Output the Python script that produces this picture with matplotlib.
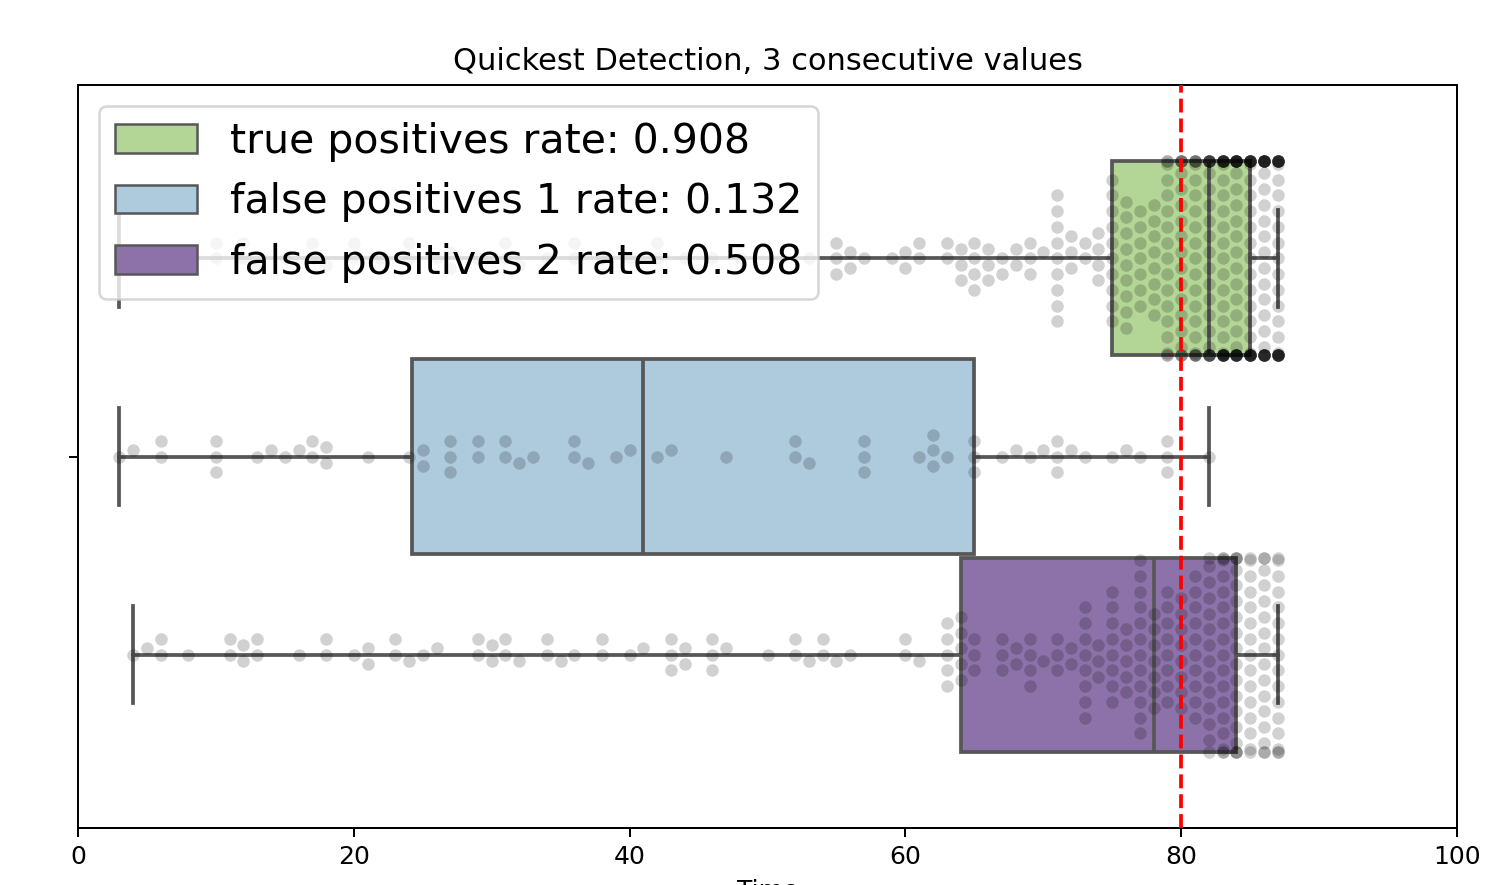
import numpy as np
import matplotlib
matplotlib.use("Agg")
import matplotlib.pyplot as plt
from matplotlib.patches import Patch

# legend labels and box colours (top to bottom)
labels = ["true positives rate: 0.908",
          "false positives 1 rate: 0.132",
          "false positives 2 rate: 0.508"]
box_colors = ["#b3d595", "#aecbde", "#8d72aa"]

# detection times (value, count)
tp_values = [3, 5, 6, 8, 10, 12, 13, 15, 17, 18, 20, 22, 24, 26, 27, 29, 31, 32,
             34, 36, 38, 40, 42, 44, 46, 48, 51, 53, 55, 56, 57, 59, 60, 61, 63,
             64, 65, 66, 67, 68, 69, 70, 71, 72, 73, 74, 75, 76, 77, 78, 79, 80,
             81, 82, 83, 84, 85, 86, 87]
tp_counts = [1, 1, 2, 1, 2, 2, 1, 1, 2, 1, 2, 1, 2, 1, 2, 1, 2, 1,
             1, 2, 1, 1, 2, 1, 1, 1, 1, 1, 3, 2, 1, 1, 2, 2, 2,
             3, 4, 3, 2, 2, 3, 1, 9, 3, 2, 4, 10, 9, 7, 8, 17, 19,
             21, 25, 31, 31, 31, 31, 31]

fp1_values = [3, 4, 6, 10, 13, 14, 15, 16, 17, 18, 21, 24, 25, 27, 29, 31, 32, 33,
              36, 37, 39, 40, 42, 43, 47, 52, 53, 57, 61, 62, 63, 65, 67, 68, 69,
              70, 71, 72, 73, 75, 76, 77, 79, 82]
fp1_counts = [1, 1, 2, 3, 1, 1, 1, 1, 2, 2, 1, 1, 2, 3, 2, 2, 1, 1,
              2, 1, 1, 1, 1, 1, 1, 2, 1, 3, 1, 3, 1, 3, 1, 1, 1,
              1, 3, 1, 1, 1, 1, 1, 3, 1]

fp2_values = [4, 5, 6, 8, 11, 12, 13, 16, 18, 20, 21, 23, 24, 25, 26, 29, 30, 31,
              32, 34, 35, 36, 38, 40, 41, 43, 44, 46, 47, 50, 52, 53, 54, 55, 56,
              60, 61, 63, 64, 65, 67, 68, 69, 70, 71, 72, 73, 74, 75, 76, 77, 78,
              79, 80, 81, 82, 83, 84, 85, 86, 87]
fp2_counts = [1, 1, 2, 1, 2, 2, 2, 1, 2, 1, 2, 2, 1, 1, 1, 2, 2, 2,
              1, 2, 1, 1, 2, 1, 1, 3, 2, 3, 1, 1, 2, 1, 2, 1, 1,
              2, 1, 5, 5, 3, 3, 2, 4, 1, 3, 2, 8, 3, 8, 5, 12, 7,
              8, 8, 10, 14, 17, 18, 15, 16, 16]

threshold = 80

DPI = 180
EDGE = "#575757"


def expand(values, counts):
    return np.repeat(np.asarray(values, float), counts)


def swarm(ax, values, center, width, diameter):
    # seaborn-like beeswarm, worked out in pixel space
    data = np.column_stack([values, np.full(len(values), center)])
    pix = ax.transData.transform(data)
    order = np.argsort(pix[:, 0], kind="stable")
    val_px = pix[order, 0]
    mid = pix[0, 1]
    pv, pc = [], []
    for v in val_px:
        nb = []
        for j in range(len(pv) - 1, -1, -1):
            if v - pv[j] < diameter:
                nb.append(j)
            else:
                break
        if not nb:
            pv.append(v)
            pc.append(mid)
            continue
        cands = [mid]
        up_first = True
        for j in nb:
            dv = v - pv[j]
            dc = np.sqrt(max(diameter ** 2 - dv ** 2, 0)) * 1.05
            a, b = pc[j] + dc, pc[j] - dc
            cands += [a, b] if up_first else [b, a]
            up_first = not up_first
        cands = np.array(cands)
        cands = cands[np.argsort(np.abs(cands - mid), kind="stable")]
        nv = np.array([pv[j] for j in nb])
        nc = np.array([pc[j] for j in nb])
        chosen = cands[-1]
        for c in cands:
            if np.all((nv - v) ** 2 + (nc - c) ** 2 >= diameter ** 2):
                chosen = c
                break
        pv.append(v)
        pc.append(chosen)
    back = ax.transData.inverted().transform(np.column_stack([pv, pc]))
    ys = np.clip(back[:, 1], center - width / 2, center + width / 2)
    return back[:, 0], ys


groups = [expand(tp_values, tp_counts),
          expand(fp1_values, fp1_counts),
          expand(fp2_values, fp2_counts)]
centers = [-0.8 / 3, 0.0, 0.8 / 3]
box_w = 0.8 / 3 * 0.98

fig = plt.figure(figsize=(1512 / DPI, 885 / DPI), dpi=DPI)
ax = fig.add_axes([78 / 1512, 57 / 885, 1379 / 1512, 743 / 885])

bp = ax.boxplot(groups, positions=centers, widths=box_w, orientation="horizontal",
                whis=(0, 100), patch_artist=True, showfliers=False,
                manage_ticks=False,
                boxprops=dict(edgecolor=EDGE, linewidth=1.5),
                whiskerprops=dict(color=EDGE, linewidth=1.5),
                capprops=dict(color=EDGE, linewidth=1.5),
                medianprops=dict(color=EDGE, linewidth=1.5))
for patch, c in zip(bp["boxes"], box_colors):
    patch.set_facecolor(c)

ax.set_xlim(0, 100)
ax.set_ylim(0.5, -0.5)

diam = (5 + 1) * DPI / 72
for vals, cen in zip(groups, centers):
    xs, ys = swarm(ax, vals, cen, box_w, diam)
    ax.scatter(xs, ys, s=25, color="k", alpha=0.18, linewidths=0, zorder=3)

ax.axvline(threshold, color="red", linestyle="--", linewidth=1.5, zorder=4)

ax.set_xticks([0, 20, 40, 60, 80, 100])
ax.set_yticks([0])
ax.set_yticklabels([""])
ax.set_xlabel("Time")
ax.set_title("Quickest Detection, 3 consecutive values", fontsize=12.2)

handles = [Patch(facecolor=c, edgecolor=EDGE, linewidth=1.0) for c in box_colors]
ax.legend(handles, labels, loc="upper left", fontsize=16.4)

fig.savefig("out.png", dpi=DPI)
